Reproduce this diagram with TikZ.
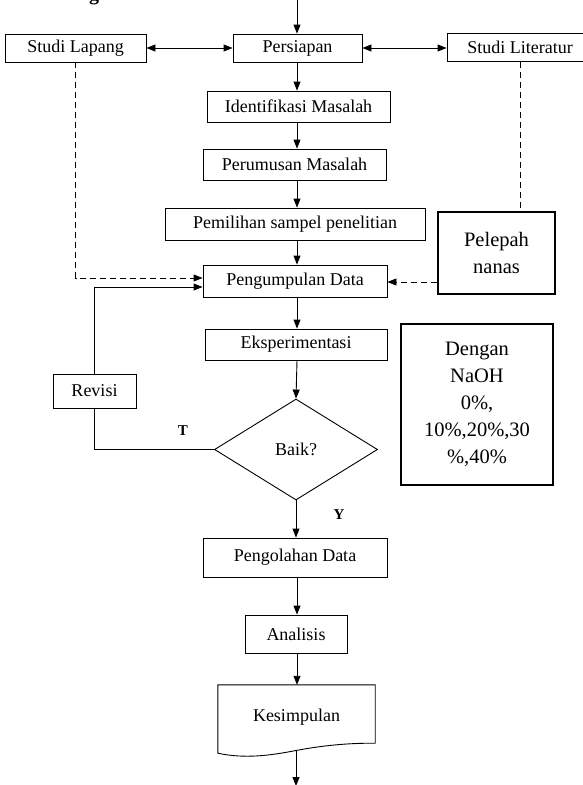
\documentclass[tikz,border=0pt]{standalone}
\usepackage{fontspec}
\setmainfont{Liberation Serif}
\usetikzlibrary{arrows.meta,shapes.geometric}
\begin{document}
\begin{tikzpicture}[x=1pt,y=-1pt,
  box/.style={draw, line width=0.9pt, rectangle, inner sep=0pt, font=\fontsize{18}{22}\selectfont},
  sidebox/.style={draw, line width=1.8pt, rectangle, inner sep=0pt, align=center, font=\fontsize{20.5}{27}\selectfont},
  arr/.style={line width=0.9pt, -{Triangle[length=9pt,width=7pt]}},
  darr/.style={line width=0.9pt, {Triangle[length=9pt,width=7pt]}-{Triangle[length=9pt,width=7pt]}},
  dline/.style={line width=0.9pt, dash pattern=on 6pt off 4pt},
  plain/.style={line width=0.9pt},
  lbl/.style={font=\bfseries\fontsize{15}{18}\selectfont, inner sep=0pt}
]
\useasboundingbox (0,0) rectangle (583,785);
\clip (0,0) rectangle (583,785);

% heading fragment (cut off at the top)
\node[anchor=base west, inner sep=0pt, font=\bfseries\fontsize{20}{24}\selectfont] (head) at (89,0.5) {g};

% boxes
\node[box, minimum width=141pt, minimum height=28pt] (lap) at (75.5,48) {Studi Lapang};
\node[box, minimum width=129pt, minimum height=28pt] (pers) at (297.5,48) {Persiapan};
\node[box, minimum width=146pt, minimum height=28pt] (lit) at (520,47.5) {Studi Literatur};
\node[box, minimum width=183pt, minimum height=31pt] (ident) at (298.5,106.5) {Identifikasi Masalah};
\node[box, minimum width=183pt, minimum height=31pt] (perum) at (294.5,164.5) {Perumusan Masalah};
\node[box, minimum width=260pt, minimum height=32pt] (pemil) at (295,224) {Pemilihan sampel penelitian};
\node[sidebox, minimum width=117pt, minimum height=82pt] (pel) at (496.5,253) {Pelepah\\nanas};
\node[box, minimum width=184pt, minimum height=32pt] (peng) at (295,281) {Pengumpulan Data};
\node[box, minimum width=182pt, minimum height=31pt] (eksp) at (296,344.5) {Eksperimentasi};
\node[sidebox, minimum width=152pt, minimum height=161pt] (dng) at (477,404.5) {Dengan\\NaOH\\0\%,\\10\%,20\%,30\\\%,40\%};
\node[box, minimum width=83pt, minimum height=34pt] (rev) at (94.5,391) {Revisi};
\node[diamond, draw, line width=0.9pt, minimum width=163pt, minimum height=101pt, inner sep=0pt, font=\fontsize{18}{22}\selectfont] (baik) at (296,449.5) {\raisebox{-7pt}{Baik?}};
\node[box, minimum width=184pt, minimum height=39pt] (pengol) at (295,557.5) {Pengolahan Data};
\node[box, minimum width=102pt, minimum height=38pt] (anal) at (296,634) {Analisis};
\node[minimum width=157pt, minimum height=68pt, inner sep=0pt, font=\fontsize{18}{22}\selectfont] (kes) at (296.5,719) {\raisebox{7pt}{Kesimpulan}};
\draw[plain] (kes.south west) -- (kes.north west) -- (kes.north east) -- ([yshift=10pt]kes.south east)
  .. controls (345,743) and (320,746) .. (296,750.5)
  .. controls (270,755.5) and (245,759) .. (kes.south west);

% labels
\node[lbl] (tlab) at (183,431) {T};
\node[lbl] (ylab) at (339,515) {Y};

% coordinates
\coordinate (col) at (297,0);
\coordinate (start) at (297,-2);
\coordinate (kesout) at (296,750.5);
\coordinate (kesend) at (296,786);
\coordinate (pin) at ([yshift=-29pt]pel.west);
\coordinate (dlin) at ([yshift=3pt]peng.west);
\coordinate (fbin) at ([yshift=-6pt]peng.west);

% main flow
\draw[arr] (start) -- (start |- pers.north);
\draw[arr] (col |- pers.south) -- (col |- ident.north);
\draw[arr] (col |- ident.south) -- (col |- perum.north);
\draw[arr] (col |- perum.south) -- (col |- pemil.north);
\draw[arr] (col |- pemil.south) -- (col |- peng.north);
\draw[arr] (col |- peng.south) -- (col |- eksp.north);
\draw[arr] (col |- eksp.south) -- (baik.north);
\draw[arr] (baik.south) -- (baik.south |- pengol.north);
\draw[arr] (col |- pengol.south) -- (col |- anal.north);
\draw[arr] (col |- anal.south) -- (col |- kes.north);
\draw[arr] (kesout) -- (kesend);

% side connections
\draw[darr] (lap.east) -- (pers.west);
\draw[darr] (pers.east) -- (lit.west |- pers.east);
\draw[dline, -{Triangle[length=9pt,width=7pt]}] (lap.south) |- (dlin);
\draw[dline] (lit.south) -- (lit.south |- pel.north);
\draw[dline, -{Triangle[length=9pt,width=7pt]}] (pin) -- (pin -| peng.east);

% feedback loop
\draw[plain] (baik.west) -| (rev.south);
\draw[arr] (rev.north) |- (fbin);
\end{tikzpicture}
\end{document}
